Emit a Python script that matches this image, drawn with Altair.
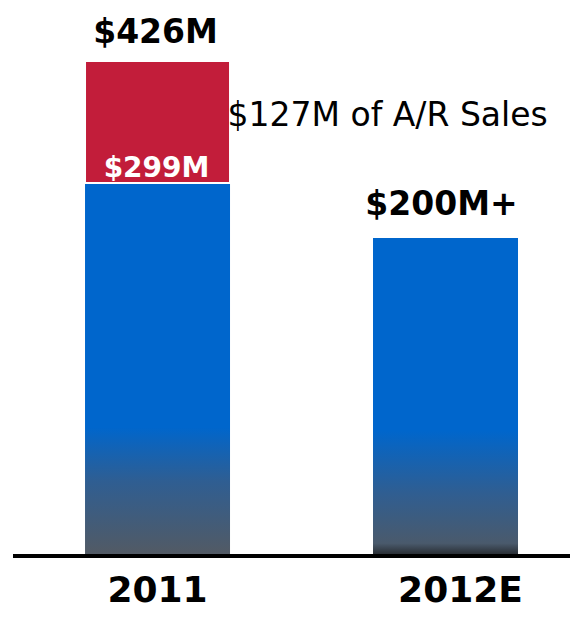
import altair as alt
import pandas as pd

years = ["2011", "2012E"]
base_values = [299, 200]
ar_sales_start = [299]
ar_sales_end = [426]
ar_year = ["2011"]
total_label = ["$426M"]
base_labels = ["$299M", "$200M+"]
note_label = ["$127M of A/R Sales"]

FONT = "DejaVu Sans"

df_bars = pd.DataFrame({"year": years, "base": base_values})
df_red = pd.DataFrame({"year": ar_year, "start": ar_sales_start, "end": ar_sales_end})
df_total = pd.DataFrame({"year": ar_year, "value": ar_sales_end, "label": total_label})
df_299 = pd.DataFrame({"year": [years[0]], "value": [base_values[0]], "label": [base_labels[0]]})
df_200 = pd.DataFrame({"year": [years[1]], "value": [base_values[1]], "label": [base_labels[1]]})
df_note = pd.DataFrame({"year": ar_year, "value": ar_sales_end, "label": note_label})

x_scale = alt.Scale(domain=years, paddingInner=0.4965, paddingOuter=0.224,
                    align=0.597, round=False)
y_scale = alt.Scale(type="linear", domain=[0, 200, 299, 426],
                    range=[548, 230, 175, 53], nice=False, zero=False)

x_axis = alt.Axis(title=None, domain=False, ticks=False, tickSize=0,
                  labelAngle=0, labelFont=FONT, labelFontSize=36,
                  labelFontWeight="bold", labelColor="black",
                  labelBaseline="alphabetic", labelPadding=45,
                  labelOffset=alt.condition("datum.value == '2012E'",
                                            alt.value(15), alt.value(0)))
x_enc = alt.X("year:N", scale=x_scale, axis=x_axis)
y_hidden = dict(scale=y_scale, axis=None)

grad_2011 = alt.LinearGradient(
    gradient="linear", x1=0, y1=0, x2=0, y2=1,
    stops=[alt.GradientStop(offset=0, color="#0066CC"),
           alt.GradientStop(offset=0.655, color="#0066CC"),
           alt.GradientStop(offset=0.8, color="#2F5E92"),
           alt.GradientStop(offset=1, color="#535A63")])
grad_2012 = alt.LinearGradient(
    gradient="linear", x1=0, y1=0, x2=0, y2=1,
    stops=[alt.GradientStop(offset=0, color="#0066CC"),
           alt.GradientStop(offset=0.606, color="#0066CC"),
           alt.GradientStop(offset=0.8, color="#2F5E92"),
           alt.GradientStop(offset=0.96, color="#4A5A6C"),
           alt.GradientStop(offset=1, color="#24272B")])

base = alt.Chart(df_bars)

blue_2011 = base.transform_filter(alt.datum.year == "2011").mark_bar(
    color=grad_2011).encode(
    x=x_enc,
    y=alt.Y("base:Q", **y_hidden),
    y2=alt.Y2(datum=0),
)
blue_2012 = base.transform_filter(alt.datum.year == "2012E").mark_bar(
    color=grad_2012).encode(
    x=x_enc,
    y=alt.Y("base:Q", **y_hidden),
    y2=alt.Y2(datum=0),
)

red = alt.Chart(df_red).mark_bar(color="#C21D3A", stroke="white", strokeWidth=2).encode(
    x=x_enc,
    y=alt.Y("start:Q", **y_hidden),
    y2="end:Q",
)

baseline = alt.Chart(pd.DataFrame({"v": [0]})).mark_rule(
    color="black", strokeWidth=4).encode(
    x=alt.value(5), x2=alt.value(562), y=alt.Y("v:Q", **y_hidden))

t_total = alt.Chart(df_total).mark_text(
    font=FONT, fontSize=33, fontWeight="bold", color="black",
    baseline="alphabetic", dy=-18, dx=-2).encode(
    x=x_enc, y=alt.Y("value:Q", **y_hidden), text="label:N")

t_299 = alt.Chart(df_299).mark_text(
    font=FONT, fontSize=28, fontWeight="bold", color="white",
    baseline="alphabetic", dy=-6, dx=-1).encode(
    x=x_enc, y=alt.Y("value:Q", **y_hidden), text="label:N")

t_200 = alt.Chart(df_200).mark_text(
    font=FONT, fontSize=33, fontWeight="bold", color="black",
    baseline="alphabetic", dy=-23, dx=-4).encode(
    x=x_enc, y=alt.Y("value:Q", **y_hidden), text="label:N")

t_note = alt.Chart(df_note).mark_text(
    font=FONT, fontSize=33, fontWeight="normal", color="black",
    baseline="alphabetic", align="left", dy=65, dx=70).encode(
    x=x_enc, y=alt.Y("value:Q", **y_hidden), text="label:N")

chart = alt.layer(blue_2011, blue_2012, red, baseline, t_total, t_299, t_200, t_note).properties(
    width=562, height=548,
    autosize=alt.AutoSizeParams(type="none"),
    padding={"left": 0, "top": 0, "right": 0, "bottom": 53},
    background="white",
).configure_view(stroke=None)

chart.save("out.html", embed_options={"renderer": "svg", "actions": False})
